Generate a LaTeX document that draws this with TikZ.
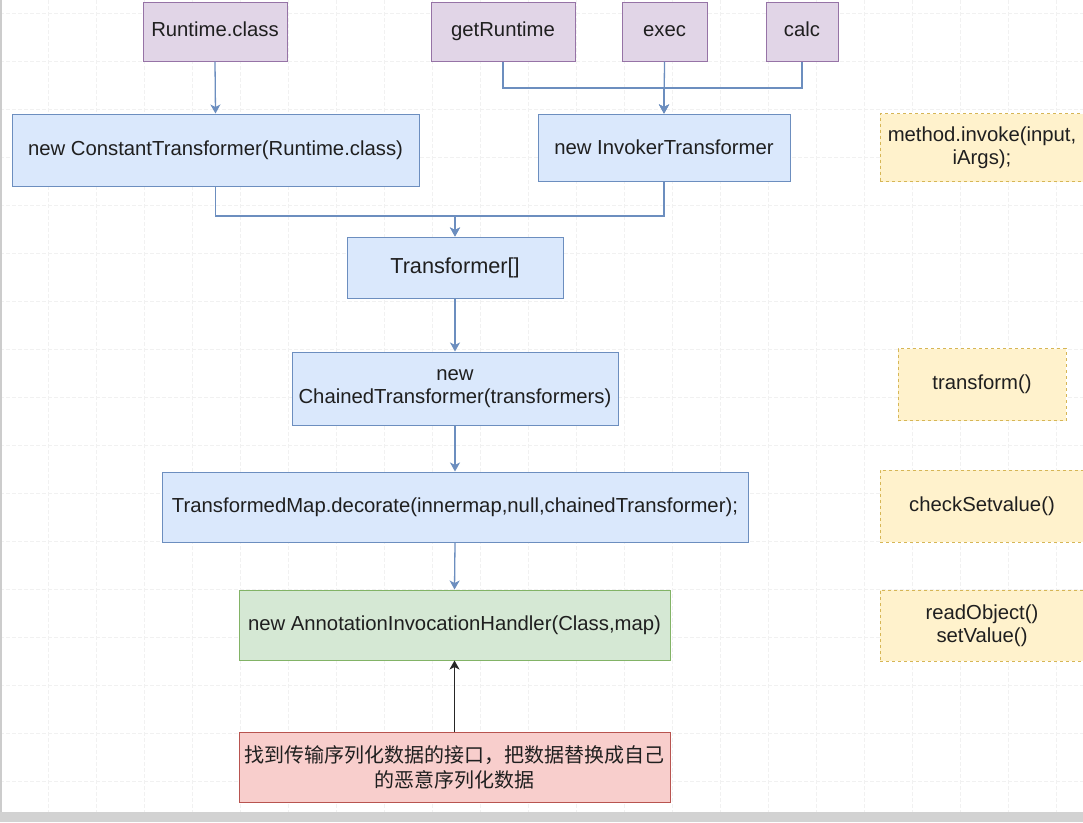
\documentclass[tikz,border=0pt]{standalone}
\usepackage{fontspec}
\setmainfont{Liberation Sans}
\newfontfamily\cjk{Noto Sans CJK SC}
\usepackage{xcolor}
\usepackage{tikz}
\usetikzlibrary{arrows.meta}

\definecolor{purplefill}{HTML}{E1D5E7}
\definecolor{purpleline}{HTML}{9673A6}
\definecolor{bluefill}{HTML}{DAE8FC}
\definecolor{blueline}{HTML}{6C8EBF}
\definecolor{greenfill}{HTML}{D5E8D4}
\definecolor{greenline}{HTML}{82B366}
\definecolor{redfill}{HTML}{F8CECC}
\definecolor{redline}{HTML}{B85450}
\definecolor{notefill}{HTML}{FFF2CC}
\definecolor{noteline}{HTML}{D6B656}

\begin{document}
\begin{tikzpicture}[x=1pt, y=-1pt,
    box/.style={rectangle, draw, line width=1pt, inner sep=2pt, align=center,
      text=black!88, font=\fontsize{20.3}{23}\selectfont},
    param/.style={box, fill=purplefill, draw=purpleline,
      text height=14.5pt, text depth=4pt},
    call/.style={box, fill=bluefill, draw=blueline},
    handler/.style={box, fill=greenfill, draw=greenline},
    attack/.style={box, fill=redfill, draw=redline,
      font=\cjk\fontsize{20}{25}\selectfont},
    note/.style={box, fill=notefill, draw=noteline, dashed},
    flow/.style={draw=blueline, line width=1.3pt,
      -{Stealth[length=9pt, width=10pt, inset=2.5pt]}},
    gridline/.style={gray!11, line width=0.8pt, dash pattern=on 4pt off 2pt}]

    % Canvas and grid
    \useasboundingbox (0,0) rectangle (1083,822);
    \fill[white] (0,0) rectangle (1083,822);
    \foreach \x in {48,96,...,1056}
      \draw[gridline] (\x,0) -- (\x,812);
    \foreach \y in {13,61,...,805}
      \draw[gridline] (0,\y) -- (1083,\y);
    \fill[gray!35] (0,812) rectangle (1083,822);
    \fill[gray!40] (0,0) rectangle (2,812);

    % Inputs
    \node[param, minimum width=144, minimum height=59] (rt) at (215,31.5) {Runtime.class};
    \node[param, minimum width=144, minimum height=59] (gr) at (503,31.5) {getRuntime};
    \node[param, minimum width=85, minimum height=59] (ex) at (664.5,31.5) {exec};
    \node[param, minimum width=72, minimum height=59] (ca) at (802,31.5) {calc};

    % Transformer chain
    \node[call, minimum width=407, minimum height=72] (ct) at (215.5,150)
      {new ConstantTransformer(Runtime.class)};
    \node[call, minimum width=252, minimum height=67] (it) at (664,147.5)
      {new InvokerTransformer};
    \node[call, minimum width=216, minimum height=61,
      font=\fontsize{21.7}{25}\selectfont] (tr) at (455,267.5)
      {Transformer[]};
    \node[call, minimum width=326, minimum height=73] (ch) at (455,388.5)
      {new\\ChainedTransformer(transformers)};
    \node[call, minimum width=586, minimum height=70] (tm) at (455,507)
      {TransformedMap.decorate(innermap,null,chainedTransformer);};
    \node[handler, minimum width=431, minimum height=70] (ah) at (454.5,625)
      {new AnnotationInvocationHandler(Class,map)};
    \node[attack, minimum width=431, minimum height=70] (rd) at (454.5,767)
      {找到传输序列化数据的接口，把数据替换成自己\\的恶意序列化数据};

    % Notes
    \node[note, minimum width=204, minimum height=68] (mi) at (982,147.5)
      {method.invoke(input,\\iArgs);};
    \node[note, minimum width=168, minimum height=72] (tf) at (982,384.5)
      {transform()};
    \node[note, minimum width=204, minimum height=72] (cs) at (982,506)
      {checkSetvalue()};
    \node[note, minimum width=204, minimum height=71] (ro) at (982,625.5)
      {readObject()\\setValue()};

    % Joins
    \coordinate (jtop) at (664,88);
    \coordinate (jmid) at (455,216);

    % Connectors
    \draw[flow] (rt.south) -- (ct.north);
    \draw[flow] (gr.south) |- (jtop) -- (it.north);
    \draw[flow] (ca.south) |- (jtop) -- (it.north);
    \draw[flow] (ex.south) -- (it.north);
    \draw[flow] (ct.south) |- (jmid) -- (tr.north);
    \draw[flow] (it.south) |- (jmid) -- (tr.north);
    \draw[flow] (tr.south) -- (ch.north);
    \draw[flow] (ch.south) -- (tm.north);
    \draw[flow] (tm.south) -- (ah.north);
    \draw[flow, draw=black!85] (rd.north) -- (ah.south);
\end{tikzpicture}
\end{document}
